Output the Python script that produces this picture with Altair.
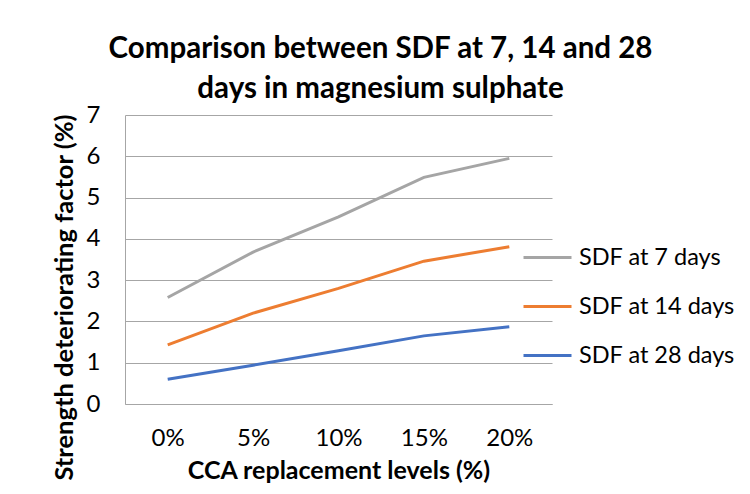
import altair as alt
import pandas as pd

levels = ["0%", "5%", "10%", "15%", "20%"]
series_names = ["SDF at 7 days", "SDF at 14 days", "SDF at 28 days"]
sdf_7 = [2.58, 3.68, 4.53, 5.49, 5.95]
sdf_14 = [1.43, 2.20, 2.80, 3.46, 3.81]
sdf_28 = [0.60, 0.94, 1.29, 1.65, 1.87]
y_ticks = [0, 1, 2, 3, 4, 5, 6, 7]
colors = ["#A5A5A5", "#ED7D31", "#4472C4"]

rows = []
for name, vals in zip(series_names, [sdf_7, sdf_14, sdf_28]):
    for lv, v in zip(levels, vals):
        rows.append({"level": lv, "value": v, "series": name})
df = pd.DataFrame(rows)

FONT = "Lato"

chart = alt.Chart(df).mark_line(strokeWidth=3).encode(
    x=alt.X("level:N", sort=levels,
            scale=alt.Scale(paddingInner=0, paddingOuter=0.5),
            axis=alt.Axis(title="CCA replacement levels (%)", labelAngle=0,
                          labelFontSize=24, labelPadding=22, ticks=False,
                          domainColor="#A6A6A6", titleFontSize=25,
                          titleFontWeight="bold", titlePadding=8, grid=False)),
    y=alt.Y("value:Q", scale=alt.Scale(domain=[0, 7], nice=False),
            axis=alt.Axis(title="Strength deteriorating factor (%)", values=y_ticks,
                          labelFontSize=24, labelPadding=25, ticks=False,
                          labelOverlap=False,
                          domainColor="#A6A6A6", gridColor="#A6A6A6",
                          titleFontSize=25.5, titleFontWeight="bold",
                          titleAngle=-90, titleX=-61, titleY=182,
                          titleAlign="center", titleBaseline="middle")),
    color=alt.Color("series:N", sort=series_names,
                    scale=alt.Scale(domain=series_names, range=colors),
                    legend=alt.Legend(title=None, orient="none", legendX=397, legendY=117,
                                      symbolType="stroke", symbolSize=2304,
                                      symbolStrokeWidth=3, labelFontSize=23.5,
                                      rowPadding=12, labelOffset=6)),
).properties(
    width=427, height=289,
    title=alt.TitleParams(["Comparison between SDF at 7, 14 and 28",
                           "days in magnesium sulphate"],
                          fontSize=29.5, fontWeight="bold", anchor="middle",
                          dx=42, offset=-1, lineHeight=40, color="black"),
    autosize=alt.AutoSizeParams(type="none"),
    padding={"left": 117, "top": 107, "right": 190, "bottom": 82},
).configure(font=FONT).configure_view(stroke=None).configure_axis(
    labelColor="black", titleColor="black", labelFont=FONT, titleFont=FONT
).configure_legend(labelColor="black", labelFont=FONT).configure_title(font=FONT)

chart.save("out.html", embed_options={"renderer": "svg", "actions": False})
